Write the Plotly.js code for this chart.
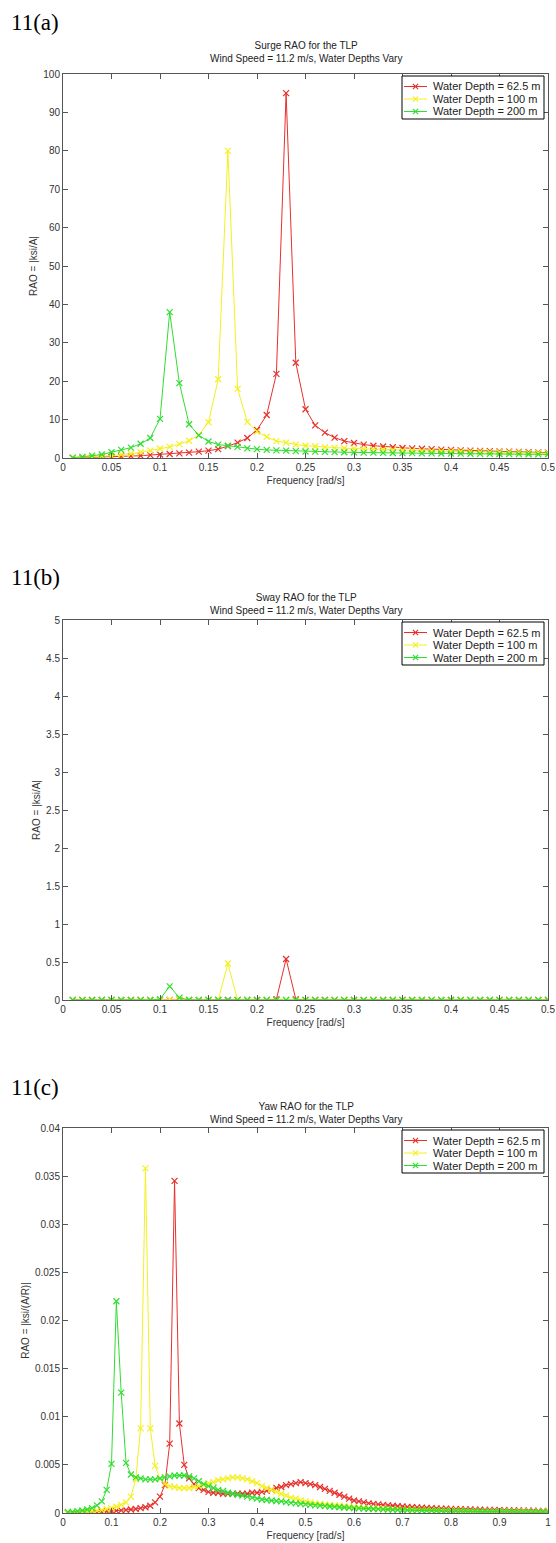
<!DOCTYPE html>
<html>
<head>
<meta charset="utf-8">
<script src="https://cdn.plot.ly/plotly-3.0.1.min.js"></script>
<style>html,body{margin:0;padding:0;background:#fff;}#chart{width:556px;height:1543px;}</style>
</head>
<body>
<div id="chart"></div>
<script>
// ---------- data ----------
const seriesNames = ["Water Depth = 62.5 m", "Water Depth = 100 m", "Water Depth = 200 m"];
const seriesColors = ["#e8302c", "#f4f020", "#30de30"];

const freqAB = [0.01,0.02,0.03,0.04,0.05,0.06,0.07,0.08,0.09,0.10,
  0.11,0.12,0.13,0.14,0.15,0.16,0.17,0.18,0.19,0.20,
  0.21,0.22,0.23,0.24,0.25,0.26,0.27,0.28,0.29,0.30,
  0.31,0.32,0.33,0.34,0.35,0.36,0.37,0.38,0.39,0.40,
  0.41,0.42,0.43,0.44,0.45,0.46,0.47,0.48,0.49,0.50];

// (a) Surge RAO
const surge625 = [0.05,0.1,0.15,0.2,0.3,0.4,0.5,0.6,0.75,0.9,
  1.05,1.2,1.4,1.65,1.9,2.3,3.1,4.0,5.2,7.3,
  11.2,21.9,95,24.8,12.7,8.5,6.6,5.3,4.4,3.9,
  3.5,3.2,3.0,2.8,2.6,2.5,2.4,2.3,2.2,2.1,
  2.0,1.9,1.85,1.8,1.7,1.65,1.6,1.5,1.45,1.4];
const surge100 = [0.05,0.15,0.3,0.45,0.6,0.9,1.1,1.5,1.9,2.4,
  2.9,3.6,4.5,6.0,9.3,20.5,80,18,9.4,6.9,
  5.5,4.4,4.0,3.5,3.2,3.0,2.8,2.65,2.55,2.45,
  2.35,2.25,2.15,2.05,2.0,1.95,1.9,1.85,1.8,1.75,
  1.7,1.65,1.6,1.55,1.5,1.45,1.4,1.35,1.3,1.25];
const surge200 = [0.1,0.3,0.6,0.9,1.5,2.1,2.7,3.7,5.2,10.2,
  38,19.5,8.8,5.9,4.3,3.5,3.2,2.9,2.5,2.3,
  2.1,2.0,1.9,1.8,1.7,1.65,1.6,1.55,1.5,1.45,
  1.4,1.38,1.35,1.3,1.28,1.25,1.22,1.2,1.18,1.15,
  1.12,1.1,1.08,1.06,1.04,1.02,1.0,0.98,0.96,0.95];

// (b) Sway RAO
const sway625 = [0,0,0,0,0,0,0,0,0,0,
  0,0,0,0,0,0,0,0,0,0,
  0,0.01,0.54,0.01,0,0,0,0,0,0,
  0,0,0,0,0,0,0,0,0,0,
  0,0,0,0,0,0,0,0,0,0];
const sway100 = [0,0,0,0,0,0,0,0,0,0,
  0,0,0,0,0,0,0.48,0,0,0,
  0,0,0,0,0,0,0,0,0,0,
  0,0,0,0,0,0,0,0,0,0,
  0,0,0,0,0,0,0,0,0,0];
const sway200 = [0,0,0,0,0,0,0,0,0,0.01,
  0.18,0.03,0,0,0,0,0,0,0,0,
  0,0,0,0,0,0,0,0,0,0,
  0,0,0,0,0,0,0,0,0,0,
  0,0,0,0,0,0,0,0,0,0];

// (c) Yaw RAO
const freqC = [0.01,0.02,0.03,0.04,0.05,0.06,0.07,0.08,0.09,0.10,
  0.11,0.12,0.13,0.14,0.15,0.16,0.17,0.18,0.19,0.20,
  0.21,0.22,0.23,0.24,0.25,0.26,0.27,0.28,0.29,0.30,
  0.31,0.32,0.33,0.34,0.35,0.36,0.37,0.38,0.39,0.40,
  0.41,0.42,0.43,0.44,0.45,0.46,0.47,0.48,0.49,0.50,
  0.51,0.52,0.53,0.54,0.55,0.56,0.57,0.58,0.59,0.60,
  0.61,0.62,0.63,0.64,0.65,0.66,0.67,0.68,0.69,0.70,
  0.71,0.72,0.73,0.74,0.75,0.76,0.77,0.78,0.79,0.80,
  0.81,0.82,0.83,0.84,0.85,0.86,0.87,0.88,0.89,0.90,
  0.91,0.92,0.93,0.94,0.95,0.96,0.97,0.98,0.99,1.00];
const yaw625 = [0.00002,0.00003,0.00004,0.00006,0.00008,0.0001,0.00012,0.00014,0.00017,0.0002,
  0.00023,0.00027,0.00031,0.00036,0.00042,0.0005,0.0006,0.00075,0.0011,0.0017,
  0.0029,0.0072,0.0345,0.0093,0.0050,0.0036,0.0030,0.0026,0.0024,0.0022,
  0.0021,0.0021,0.0020,0.0020,0.0020,0.0020,0.0020,0.0020,0.0021,0.0021,
  0.0022,0.0023,0.0024,0.0026,0.0027,0.0029,0.0030,0.0031,0.0032,0.0031,
  0.0030,0.0029,0.0027,0.0025,0.0023,0.0021,0.0019,0.0017,0.0015,0.0013,
  0.0012,0.0011,0.0010,0.00095,0.0009,0.00085,0.0008,0.00075,0.0007,0.00068,
  0.00064,0.0006,0.00058,0.00055,0.00052,0.0005,0.00048,0.00046,0.00044,0.00042,
  0.0004,0.00039,0.00037,0.00036,0.00035,0.00034,0.00033,0.00032,0.00031,0.0003,
  0.00029,0.00028,0.00027,0.00026,0.00025,0.00024,0.00023,0.00022,0.00021,0.0002];
const yaw100 = [0.00003,0.00005,0.00008,0.0001,0.00014,0.00018,0.00023,0.0003,0.0004,0.0005,
  0.00065,0.00085,0.0011,0.0017,0.0035,0.0088,0.0358,0.0088,0.0049,0.0036,
  0.0030,0.0028,0.0027,0.0026,0.0026,0.0026,0.0027,0.0028,0.0029,0.0031,
  0.0032,0.0034,0.0035,0.0036,0.0037,0.0037,0.0036,0.0035,0.0033,0.0031,
  0.0028,0.0026,0.0024,0.0022,0.0020,0.0018,0.0016,0.0015,0.0013,0.0012,
  0.0011,0.001,0.00095,0.0009,0.00085,0.0008,0.00075,0.0007,0.00065,0.0006,
  0.00057,0.00054,0.00051,0.00048,0.00046,0.00044,0.00042,0.0004,0.00038,0.00036,
  0.00035,0.00034,0.00033,0.00032,0.00031,0.0003,0.00029,0.00028,0.00027,0.00026,
  0.00025,0.00024,0.00023,0.00022,0.00021,0.0002,0.0002,0.00019,0.00019,0.00018,
  0.00018,0.00017,0.00017,0.00016,0.00016,0.00015,0.00015,0.00015,0.00014,0.00014];
const yaw200 = [0.0001,0.00012,0.00018,0.00026,0.00036,0.0005,0.0008,0.0012,0.0024,0.0051,
  0.0220,0.0125,0.0052,0.0040,0.0037,0.0036,0.0035,0.0035,0.0035,0.0036,
  0.0037,0.0038,0.0039,0.0039,0.0039,0.0038,0.0036,0.0033,0.0030,0.0028,
  0.0026,0.0024,0.0023,0.0021,0.0020,0.0019,0.0018,0.0017,0.0016,0.0015,
  0.0014,0.00135,0.0013,0.00125,0.0012,0.00113,0.00106,0.001,0.00095,0.0009,
  0.00085,0.0008,0.00076,0.00072,0.00068,0.00064,0.0006,0.00057,0.00054,0.00051,
  0.00048,0.00046,0.00044,0.00042,0.0004,0.00038,0.00036,0.00034,0.00032,0.0003,
  0.00029,0.00028,0.00027,0.00026,0.00025,0.00024,0.00023,0.00022,0.00021,0.0002,
  0.00019,0.00018,0.00018,0.00017,0.00017,0.00016,0.00016,0.00015,0.00015,0.00014,
  0.00014,0.00013,0.00013,0.00012,0.00012,0.00011,0.00011,0.0001,0.0001,0.0001];

const panelLabels = ["11(a)", "11(b)", "11(c)"];
const plotTitles = ["Surge RAO for the TLP", "Sway RAO for the TLP", "Yaw RAO for the TLP"];
const subTitle = "Wind Speed = 11.2 m/s, Water Depths Vary";
const yTitles = ["RAO = |ksi/A|", "RAO = |ksi/A|", "RAO = |ksi/(A/R)|"];
const xTitle = "Frequency [rad/s]";

// ---------- layout helpers ----------
const H = 1543, W = 556;
const py = v => 1 - v / H;   // pixel (from top) -> paper
const px = v => v / W;
const font = "Liberation Sans, Arial, sans-serif";
const PLOT_L = 63, PLOT_R = 548;

const panels = [
  {x: freqAB, ys: [surge625, surge100, surge200], top: 74, bot: 458, yr: [0, 100], dy: 10, xr: [0, 0.5], dx: 0.05, lab: 22, tit: 52},
  {x: freqAB, ys: [sway625, sway100, sway200], top: 620, bot: 1000, yr: [0, 5], dy: 0.5, xr: [0, 0.5], dx: 0.05, lab: 577, tit: 604},
  {x: freqC, ys: [yaw625, yaw100, yaw200], top: 1128, bot: 1513, yr: [0, 0.04], dy: 0.005, xr: [0, 1], dx: 0.1, lab: 1087, tit: 1113}
];

const traces = [];
const layout = {
  width: W, height: H,
  margin: {l: 0, r: 0, t: 0, b: 0},
  paper_bgcolor: "#ffffff", plot_bgcolor: "#ffffff",
  font: {family: font, size: 10, color: "#333"},
  showlegend: false,
  annotations: [],
  shapes: []
};

// legend box geometry (pixels relative to the plot top)
const LG = {x0: 402, x1: 544, top: 2, bottom: 45, rows: [12.5, 25, 37.5], lx0: 404, lx1: 427, mk: 2.6, tx: 431};

panels.forEach((p, i) => {
  const sfx = i === 0 ? "" : String(i + 1);
  p.ys.forEach((ys, k) => {
    traces.push({
      type: "scatter", mode: "lines+markers",
      x: p.x, y: ys, name: seriesNames[k],
      xaxis: "x" + sfx, yaxis: "y" + sfx,
      line: {color: seriesColors[k], width: 1},
      marker: {symbol: "x-thin", size: 6, color: seriesColors[k], line: {color: seriesColors[k], width: 1.2}}
    });
  });
  const axCommon = {
    showline: true, mirror: "allticks", ticks: "inside", ticklen: 5,
    linecolor: "#555", tickcolor: "#555", linewidth: 1, showgrid: false, zeroline: false,
    tickfont: {family: font, size: 10, color: "#333"}
  };
  layout["xaxis" + sfx] = Object.assign({}, axCommon, {
    domain: [px(PLOT_L), px(PLOT_R)], anchor: "y" + sfx,
    range: p.xr, tick0: 0, dtick: p.dx, ticklabeloverflow: "allow",
    title: {text: xTitle, font: {family: font, size: 10, color: "#333"}, standoff: 4}
  });
  layout["yaxis" + sfx] = Object.assign({}, axCommon, {
    domain: [py(p.bot), py(p.top)], anchor: "x" + sfx,
    range: p.yr, tick0: 0, dtick: p.dy,
    title: {text: yTitles[i], font: {family: font, size: 10, color: "#333"}, standoff: 3}
  });

  // legend box (drawn like the MATLAB legend)
  layout.shapes.push({type: "rect", xref: "paper", yref: "paper",
    x0: px(LG.x0), x1: px(LG.x1), y0: py(p.top + LG.bottom), y1: py(p.top + LG.top),
    line: {color: "#000", width: 1}, fillcolor: "#ffffff", layer: "above"});
  seriesNames.forEach((nm, k) => {
    const ry = p.top + LG.rows[k];
    const c = seriesColors[k];
    const mx = (LG.lx0 + LG.lx1) / 2;
    layout.shapes.push({type: "line", xref: "paper", yref: "paper",
      x0: px(LG.lx0), x1: px(LG.lx1), y0: py(ry), y1: py(ry), line: {color: c, width: 1}, layer: "above"});
    layout.shapes.push({type: "line", xref: "paper", yref: "paper",
      x0: px(mx - LG.mk), x1: px(mx + LG.mk), y0: py(ry - LG.mk), y1: py(ry + LG.mk), line: {color: c, width: 1.2}, layer: "above"});
    layout.shapes.push({type: "line", xref: "paper", yref: "paper",
      x0: px(mx - LG.mk), x1: px(mx + LG.mk), y0: py(ry + LG.mk), y1: py(ry - LG.mk), line: {color: c, width: 1.2}, layer: "above"});
    layout.annotations.push({xref: "paper", yref: "paper", x: px(LG.tx), y: py(ry),
      xanchor: "left", yanchor: "middle", text: nm, showarrow: false,
      font: {family: font, size: 11, color: "#222"}});
  });

  layout.annotations.push({
    xref: "paper", yref: "paper", x: px(9), y: py(p.lab), xanchor: "left", yanchor: "middle",
    text: panelLabels[i], showarrow: false,
    font: {family: "Liberation Serif, Times New Roman, serif", size: 23, color: "#000"}
  });
  layout.annotations.push({
    xref: "paper", yref: "paper", x: px((PLOT_L + PLOT_R) / 2), y: py(p.tit), xanchor: "center", yanchor: "middle",
    text: plotTitles[i] + "<br>" + subTitle, showarrow: false,
    font: {family: font, size: 10, color: "#222"}
  });
});

Plotly.newPlot("chart", traces, layout, {staticPlot: true, displayModeBar: false});
</script>
</body>
</html>
